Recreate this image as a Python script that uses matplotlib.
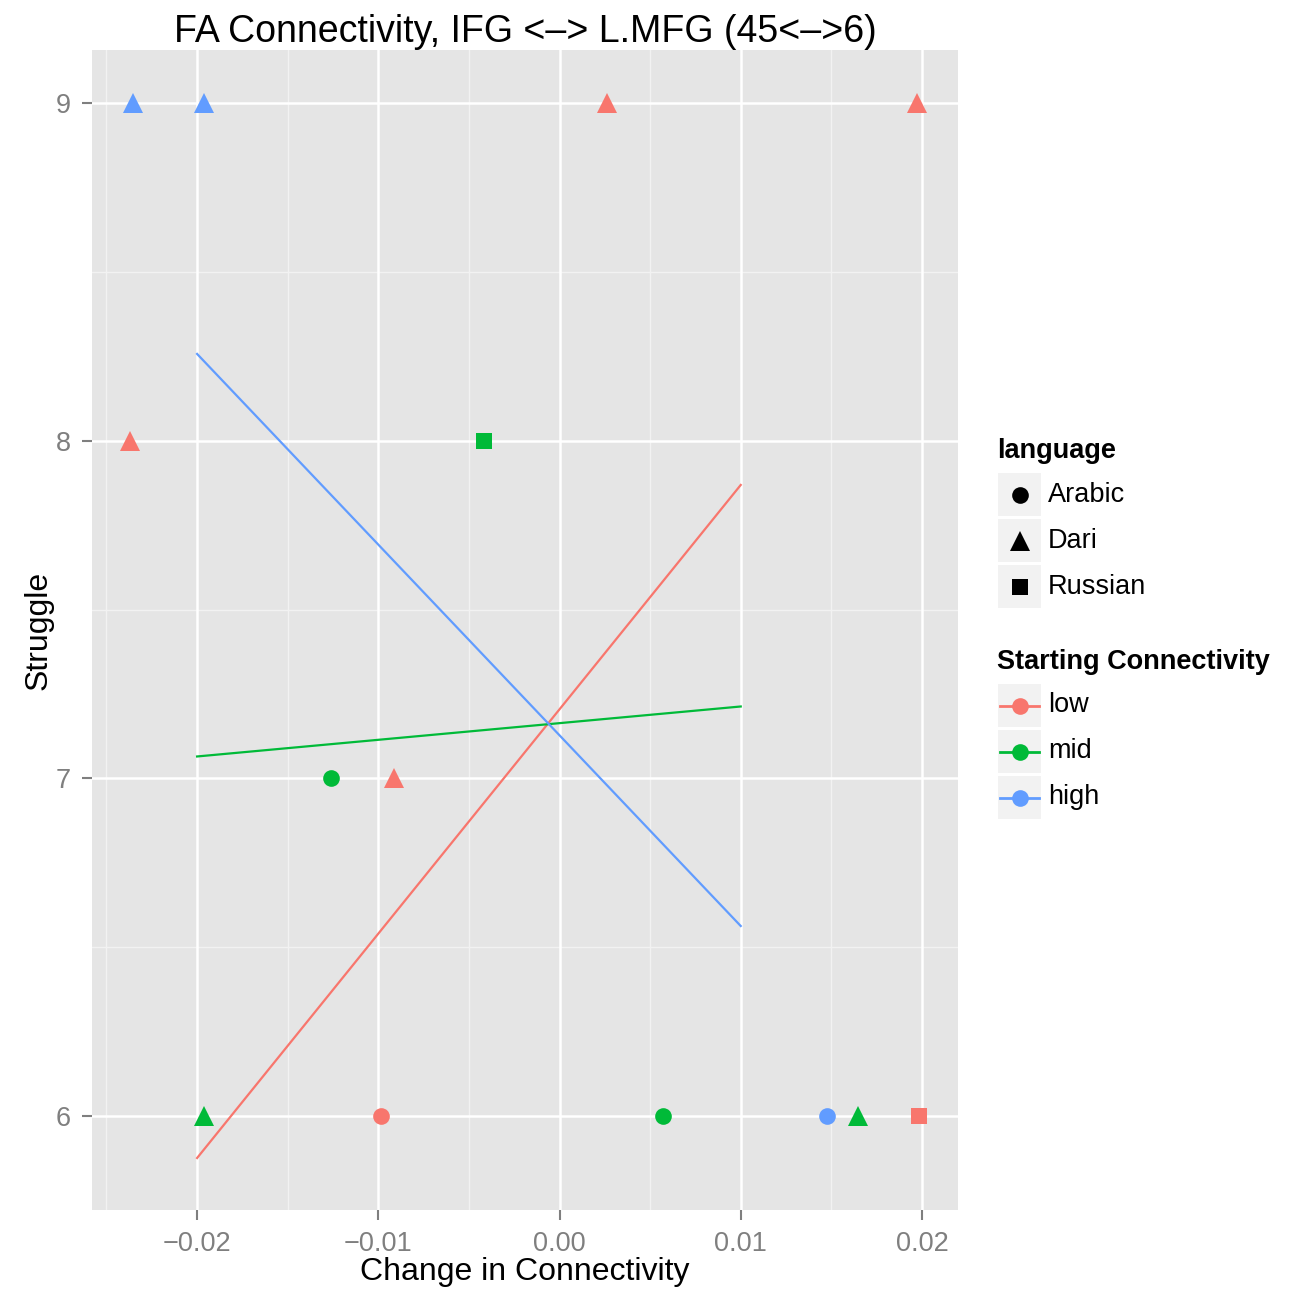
import matplotlib
matplotlib.use("Agg")
import matplotlib.pyplot as plt
from matplotlib.patches import Rectangle

plt.rcParams['font.family'] = ['Liberation Sans', 'DejaVu Sans']

# ---- data ----
change = [-0.02354, -0.01961, 0.0026, 0.01972, -0.0237, -0.00414,
          -0.0126, -0.00912, -0.01963, -0.00985, 0.00569, 0.01475,
          0.01646, 0.01983]
struggle = [9, 9, 9, 9, 8, 8, 7, 7, 6, 6, 6, 6, 6, 6]
language = ['Dari', 'Dari', 'Dari', 'Dari', 'Dari', 'Russian',
            'Arabic', 'Dari', 'Dari', 'Arabic', 'Arabic', 'Arabic',
            'Dari', 'Russian']
start_conn = ['high', 'high', 'low', 'low', 'low', 'mid',
              'mid', 'low', 'mid', 'low', 'mid', 'high',
              'mid', 'low']

# fitted lines per group, evaluated at the ends of the x range
fit_x = [-0.02, 0.01]
fit_low = [5.876, 7.869]
fit_mid = [7.065, 7.213]
fit_high = [8.257, 6.563]

groups = ['low', 'mid', 'high']
languages = ['Arabic', 'Dari', 'Russian']
x_ticks = [-0.02, -0.01, 0.00, 0.01, 0.02]
x_tick_labels = ['\u22120.02', '\u22120.01', '0.00', '0.01', '0.02']
y_ticks = [6, 7, 8, 9]

colors = {'low': '#F8766D', 'mid': '#00BA38', 'high': '#619CFF'}
markers = {'Arabic': 'o', 'Dari': '^', 'Russian': 's'}
msizes = {'Arabic': 12, 'Dari': 15, 'Russian': 12}

W, H = 1294, 1290
fig = plt.figure(figsize=(W / 100, H / 100), dpi=100)
ax = fig.add_axes([92 / W, 1 - 1210 / H, (958 - 92) / W, (1210 - 50) / H])
ax.set_facecolor('#E5E5E5')
ax.set_xlim(-0.02580, 0.02199)
ax.set_ylim(5.722, 9.157)

# grid
for xm in [-0.025, -0.015, -0.005, 0.005, 0.015]:
    ax.axvline(xm, color='#F2F2F2', lw=1.0, zorder=0)
for ym in [6.5, 7.5, 8.5]:
    ax.axhline(ym, color='#F2F2F2', lw=1.0, zorder=0)
for xm in x_ticks:
    ax.axvline(xm, color='white', lw=1.8, zorder=0.5)
for ym in y_ticks:
    ax.axhline(ym, color='white', lw=1.8, zorder=0.5)

for s in ax.spines.values():
    s.set_visible(False)

ax.set_xticks(x_ticks)
ax.set_xticklabels(x_tick_labels)
ax.set_yticks(y_ticks)
ax.tick_params(axis='both', colors='#7F7F7F', labelcolor='#7F7F7F',
               labelsize=19.5, length=7, width=1.5, direction='out')
ax.tick_params(axis='x', pad=8)
ax.tick_params(axis='y', pad=8)

# fitted lines
for g, fy in zip(groups, [fit_low, fit_mid, fit_high]):
    ax.plot(fit_x, fy, color=colors[g], lw=1.6, zorder=2)

# points
for xv, yv, lang, g in zip(change, struggle, language, start_conn):
    ax.plot(xv, yv, linestyle='none', marker=markers[lang], ms=msizes[lang],
            color=colors[g], markeredgewidth=0, zorder=3)

ax.set_title('FA Connectivity, IFG <\u2013> L.MFG (45<\u2013>6)', fontsize=27, pad=4)
ax.set_xlabel('Change in Connectivity', fontsize=23, labelpad=0)
ax.set_ylabel('Struggle', fontsize=23, labelpad=2)

# legends drawn in figure pixel space
lg = fig.add_axes([0, 0, 1, 1], zorder=5)
lg.set_xlim(0, W)
lg.set_ylim(H, 0)
lg.axis('off')

box_x, box_w, box_h, step = 998, 43, 43, 46
lg.text(997, 451, 'language', fontsize=19.5, fontweight='bold', va='center', ha='left')
for i, lang in enumerate(languages):
    top = 473 + i * step
    lg.add_patch(Rectangle((box_x, top), box_w, box_h, facecolor='#F2F2F2', edgecolor='none'))
    cy = top + box_h / 2
    lg.plot(box_x + box_w / 2, cy, marker=markers[lang], ms=msizes[lang],
            color='black', markeredgewidth=0, linestyle='none')
    lg.text(1048, cy, lang, fontsize=19.5, va='center', ha='left')

lg.text(997, 662, 'Starting Connectivity', fontsize=19.5, fontweight='bold', va='center', ha='left')
for i, g in enumerate(groups):
    top = 684 + i * step
    lg.add_patch(Rectangle((box_x, top), box_w, box_h, facecolor='#F2F2F2', edgecolor='none'))
    cy = top + box_h / 2
    lg.plot([box_x + 2, box_x + box_w - 2], [cy, cy], color=colors[g], lw=2)
    lg.plot(box_x + box_w / 2, cy, marker='o', ms=12, color=colors[g],
            markeredgewidth=0, linestyle='none')
    lg.text(1048, cy, g, fontsize=19.5, va='center', ha='left')

fig.savefig('out.png', dpi=100, facecolor='white')
